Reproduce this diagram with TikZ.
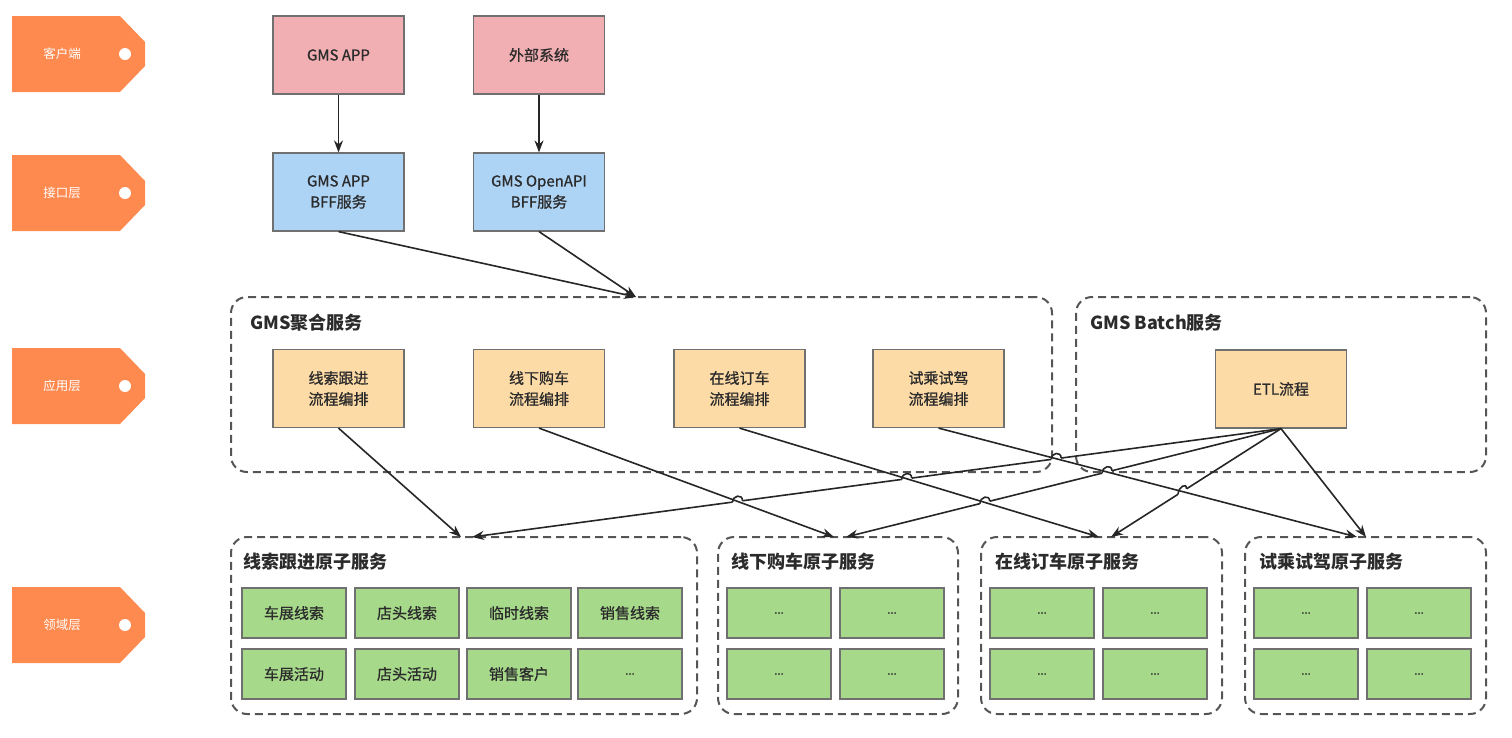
\documentclass[tikz,border=0pt]{standalone}
\usepackage{fontspec}
\setmainfont{Noto Sans CJK SC}
\newfontfamily\medf{Noto Sans CJK SC}[FakeBold=0.9]
\usetikzlibrary{arrows.meta,calc,intersections}
\definecolor{tagc}{HTML}{FF8A4F}
\definecolor{pinkc}{HTML}{F2AFB3}
\definecolor{bluec}{HTML}{ADD3F5}
\definecolor{orgc}{HTML}{FDDBA7}
\definecolor{greenc}{HTML}{A7D98B}
\definecolor{bordc}{HTML}{707070}
\definecolor{dashc}{HTML}{555555}
\definecolor{txtc}{HTML}{2B2B2B}
\newcommand{\jmp}[3]{%
  \draw[white, line width=3.5pt] ($(#1)!5pt!(#2)$) -- ($(#1)!5pt!(#3)$);
  \draw[conline] ($(#1)!5pt!(#2)$) .. controls +(0,-7) and +(0,-7) .. ($(#1)!5pt!(#3)$);
}
\tikzset{
  box/.style={draw=bordc, line width=1.2pt, minimum width=131pt, minimum height=78pt, inner sep=0pt, align=center, text=txtc, font=\medf\fontsize{15}{21}\selectfont},
  cell/.style={draw=bordc, fill=greenc, line width=1.2pt, minimum width=104pt, minimum height=50pt, inner sep=0pt, text=txtc, font=\medf\fontsize{15}{18}\selectfont},
  dots/.style={cell, font=\medf\fontsize{11}{12}\selectfont},
  grp/.style={draw=dashc, dash pattern=on 8pt off 5pt, line width=2pt, rounded corners=16pt, inner sep=0pt},
  hdr/.style={anchor=west, inner sep=0pt, text=txtc, font=\fontsize{18}{20}\selectfont\bfseries},
  taglbl/.style={inner sep=0pt, text=white, font=\fontsize{12.5}{14}\selectfont},
  conline/.style={line width=1.6pt, draw=black!85},
  conn/.style={conline, -{Stealth[length=12pt,width=9pt]}},
}
\begin{document}
\begin{tikzpicture}[x=1pt,y=-1pt]
\useasboundingbox (0,0) rectangle (1512,737);
% layer tags
\foreach \nm/\yy/\lab in {tag1/54/客户端, tag2/193/接口层, tag3/386/应用层, tag4/625/领域层}{
  \fill[tagc] (12,\yy-38) -- (120,\yy-38) -- (145,\yy-12) -- (145,\yy+12) -- (120,\yy+38) -- (12,\yy+38) -- cycle;
  \fill[white] (125,\yy) circle[radius=6pt];
  \node[taglbl] (\nm) at (62,\yy) {\lab};
}
% top layers
\node[box, fill=pinkc] (app) at (338.5,55) {GMS APP};
\node[box, fill=pinkc] (ext) at (539,55) {外部系统};
\node[box, fill=bluec] (bff1) at (338.5,192) {GMS APP\\BFF服务};
\node[box, fill=bluec] (bff2) at (539,192) {GMS OpenAPI\\BFF服务};
% containers
\node[grp, minimum width=821pt, minimum height=175pt] (agg) at (641.5,384.5) {};
\node[grp, minimum width=410pt, minimum height=175pt] (batch) at (1281,384.5) {};
\node[hdr] (agglbl) at (250,323) {GMS聚合服务};
\node[hdr] (batchlbl) at (1090,323) {GMS Batch服务};
\node[box, fill=orgc] (o1) at (338.5,388.5) {线索跟进\\流程编排};
\node[box, fill=orgc] (o2) at (539,388.5) {线下购车\\流程编排};
\node[box, fill=orgc] (o3) at (739.5,388.5) {在线订车\\流程编排};
\node[box, fill=orgc] (o4) at (938.5,388.5) {试乘试驾\\流程编排};
\node[box, fill=orgc] (etl) at (1281,389) {ETL流程};
% domain containers
\node[grp, minimum width=466pt, minimum height=177pt] (d1) at (464,625.5) {};
\node[grp, minimum width=240pt, minimum height=177pt] (d2) at (838,625.5) {};
\node[grp, minimum width=241pt, minimum height=177pt] (d3) at (1101.5,625.5) {};
\node[grp, minimum width=241pt, minimum height=177pt] (d4) at (1365.5,625.5) {};
\node[hdr] (d1lbl) at (243,562) {线索跟进原子服务};
\node[hdr] (d2lbl) at (731,562) {线下购车原子服务};
\node[hdr] (d3lbl) at (995,562) {在线订车原子服务};
\node[hdr] (d4lbl) at (1259,562) {试乘试驾原子服务};
% cells
\node[cell] (c11) at (294,613) {车展线索};
\node[cell] (c12) at (407,613) {店头线索};
\node[cell] (c13) at (519,613) {临时线索};
\node[cell] (c14) at (630,613) {销售线索};
\node[cell] (c21) at (294,674) {车展活动};
\node[cell] (c22) at (407,674) {店头活动};
\node[cell] (c23) at (519,674) {销售客户};
\node[dots] (c24) at (630,674) {...};
\foreach \cx/\nm in {779/b, 892/c, 1042/d, 1155/e, 1306/f, 1419/g}{
  \node[dots] (\nm1) at (\cx,613) {...};
  \node[dots] (\nm2) at (\cx,674) {...};
}
% connector end points
\coordinate (aggin) at (636,297);
\coordinate (t1a) at (461,537);
\coordinate (t1b) at (472,537);
\coordinate (t2a) at (834,537);
\coordinate (t2b) at (846,537);
\coordinate (t3a) at (1099,537);
\coordinate (t3b) at (1111,537);
\coordinate (t4a) at (1357,537);
\coordinate (t4b) at (1366,537);
\coordinate (es) at (etl.south);
% top connectors
\draw[conn] (app) -- (bff1);
\draw[conn] (ext) -- (bff2);
\draw[conn] (bff1.south) -- (aggin);
\draw[conn] (bff2.south) -- (aggin);
% named paths for crossings
\path[name path=f2] (o2.south) -- (t2a);
\path[name path=f3] (o3.south) -- (t3a);
\path[name path=f4] (o4.south) -- (t4a);
\path[name path=e1] (es) -- (t1b);
\path[name path=e2] (es) -- (t2b);
\path[name path=e3] (es) -- (t3b);
% ETL connectors
\draw[conn] (es) -- (t1b);
\draw[conn] (es) -- (t2b);
\draw[conn] (es) -- (t3b);
\draw[conn] (es) -- (t4b);
% jumps
\path[name intersections={of=e1 and f2, by=x12}];
\path[name intersections={of=e1 and f3, by=x13}];
\path[name intersections={of=e1 and f4, by=x14}];
\path[name intersections={of=e2 and f3, by=x23}];
\path[name intersections={of=e2 and f4, by=x24}];
\path[name intersections={of=e3 and f4, by=x34}];
\jmp{x12}{es}{t1b}
\jmp{x13}{es}{t1b}
\jmp{x14}{es}{t1b}
\jmp{x23}{es}{t2b}
\jmp{x24}{es}{t2b}
\jmp{x34}{es}{t3b}
% flow connectors
\draw[conn] (o1.south) -- (t1a);
\draw[conn] (o2.south) -- (t2a);
\draw[conn] (o3.south) -- (t3a);
\draw[conn] (o4.south) -- (t4a);
\end{tikzpicture}
\end{document}
